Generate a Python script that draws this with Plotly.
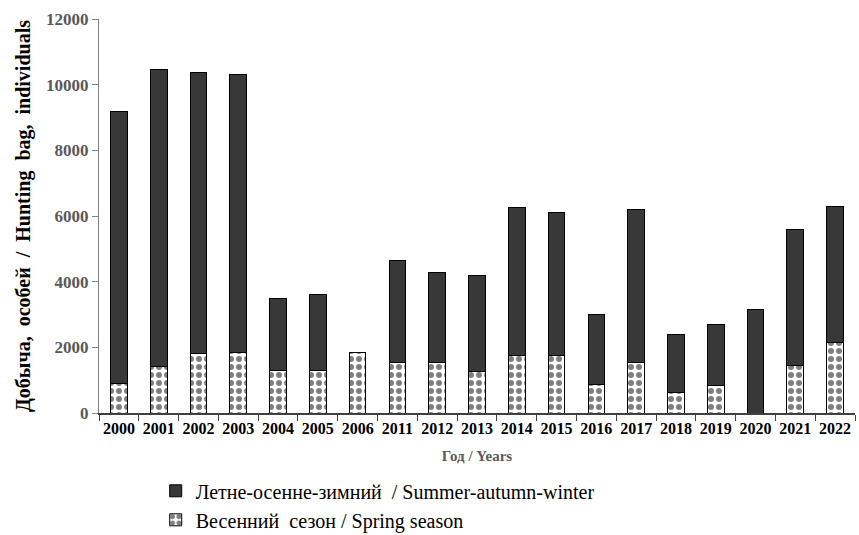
import plotly.graph_objects as go

years = ["2000", "2001", "2002", "2003", "2004", "2005", "2006", "2011", "2012", "2013",
         "2014", "2015", "2016", "2017", "2018", "2019", "2020", "2021", "2022"]
totals = [9180, 10450, 10370, 10310, 3500, 3600, 1850, 4650, 4270, 4180,
          6250, 6120, 3000, 6200, 2380, 2700, 3140, 5580, 6300]
spring = [890, 1420, 1800, 1830, 1290, 1290, 1850, 1550, 1550, 1250,
          1740, 1740, 880, 1550, 610, 840, 0, 1460, 2140]
summer = [t - s for t, s in zip(totals, spring)]

y_ticks = [0, 2000, 4000, 6000, 8000, 10000, 12000]
y_tick_labels = ["0", "2000", "4000", "6000", "8000", "10000", "12000"]

name_summer = "Летне-осенне-зимний \u00a0/ Summer-autumn-winter"
name_spring = "Весенний \u00a0сезон / Spring season"

fig = go.Figure()
fig.add_trace(go.Bar(
    x=years, y=spring, name=name_spring,
    marker=dict(color="white",
                line=dict(color="black", width=1),
                pattern=dict(shape=".", fgcolor="#000000", bgcolor="white",
                             size=8, solidity=0.45, fillmode="overlay")),
))
fig.add_trace(go.Bar(
    x=years, y=summer, name=name_summer,
    marker=dict(color="#383838", line=dict(color="black", width=1)),
))

serif = "Liberation Serif"

fig.update_layout(
    barmode="stack",
    bargap=0.58,
    width=859, height=535,
    margin=dict(l=99, r=4, t=19, b=122, autoexpand=False),
    plot_bgcolor="white", paper_bgcolor="white",
    font=dict(family=serif, color="black"),
    showlegend=True,
    legend=dict(
        traceorder="reversed",
        orientation="v",
        x=0.075, xanchor="left",
        y=-0.148, yanchor="top",
        font=dict(family=serif, size=20, color="black"),
        itemwidth=30,
        tracegroupgap=0,
        bgcolor="rgba(0,0,0,0)",
    ),
    xaxis=dict(
        type="category",
        showline=True, linecolor="#404040", linewidth=2,
        ticks="outside", tickson="boundaries", ticklen=6, tickcolor="#404040",
        tickangle=0,
        tickfont=dict(family=serif, size=16, color="black", weight="bold"),
        showgrid=False,
        title=dict(text="Год / Years", standoff=14,
                   font=dict(family=serif, size=15, color="#595959", weight="bold")),
    ),
    yaxis=dict(
        range=[0, 12000],
        tickvals=y_ticks,
        ticktext=y_tick_labels,
        showline=True, linecolor="#808080", linewidth=1,
        ticks="outside", ticklen=6, tickcolor="#808080",
        tickfont=dict(family=serif, size=17, color="#595959", weight="bold"),
        showgrid=False, zeroline=False,
        title=dict(text="Добыча, \u00a0особей \u00a0/ \u00a0Hunting \u00a0bag, \u00a0individuals", standoff=10,
                   font=dict(family=serif, size=20, color="black", weight="bold")),
    ),
)

fig.write_html("out.html", config={"displayModeBar": False},
               post_script="document.body.style.margin='0';")
